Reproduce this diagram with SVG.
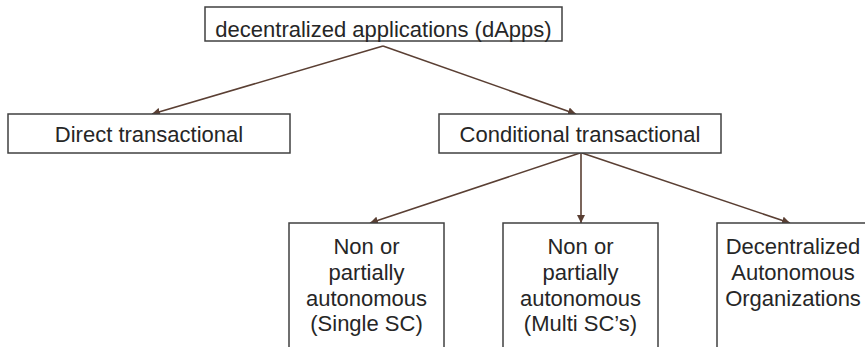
<svg xmlns="http://www.w3.org/2000/svg" width="865" height="347" viewBox="0 0 865 347">
  <defs>
    <marker id="arrow" viewBox="0 0 10 10" refX="10" refY="5" markerWidth="8" markerHeight="8" markerUnits="userSpaceOnUse" orient="auto">
      <path d="M0,0 L10,5 L0,10 z" fill="#5a3f33"/>
    </marker>
    <style>
      .box { fill: #ffffff; stroke: #404040; stroke-width: 1.5; }
      .label { font-family: "Liberation Sans", Arial, sans-serif; font-size: 22px; fill: #262626; text-anchor: middle; }
      .edge { fill: none; stroke: #5a3f33; stroke-width: 1.6; marker-end: url(#arrow); }
    </style>
  </defs>
  <rect width="865" height="347" fill="#ffffff"/>

  <g id="connectors">
    <line class="edge" x1="383" y1="46" x2="152" y2="114"/>
    <line class="edge" x1="383" y1="46" x2="576" y2="114"/>
    <line class="edge" x1="580" y1="153" x2="370" y2="223"/>
    <line class="edge" x1="581" y1="153" x2="581" y2="223"/>
    <line class="edge" x1="582" y1="153" x2="790" y2="223"/>
  </g>

  <g id="dapps">
    <rect class="box" x="205" y="7" width="357" height="34"/>
    <text class="label" x="383.5" y="37">decentralized applications (dApps)</text>
  </g>

  <g id="direct">
    <rect class="box" x="8" y="114" width="282" height="39"/>
    <text class="label" x="149" y="142">Direct transactional</text>
  </g>

  <g id="conditional">
    <rect class="box" x="439" y="114" width="282" height="39"/>
    <text class="label" x="580" y="142">Conditional transactional</text>
  </g>

  <g id="single-sc">
    <rect class="box" x="289" y="223" width="155" height="140"/>
    <text class="label" x="366.5" y="254">Non or</text>
    <text class="label" x="366.5" y="280">partially</text>
    <text class="label" x="366.5" y="305.5">autonomous</text>
    <text class="label" x="366.5" y="331">(Single SC)</text>
  </g>

  <g id="multi-sc">
    <rect class="box" x="503" y="223" width="155" height="140"/>
    <text class="label" x="580.5" y="254">Non or</text>
    <text class="label" x="580.5" y="280">partially</text>
    <text class="label" x="580.5" y="305.5">autonomous</text>
    <text class="label" x="580.5" y="331">(Multi SC’s)</text>
  </g>

  <g id="dao">
    <rect class="box" x="717" y="223" width="155" height="140"/>
    <text class="label" x="793" y="254">Decentralized</text>
    <text class="label" x="793" y="280">Autonomous</text>
    <text class="label" x="793" y="305.5">Organizations</text>
  </g>
</svg>
